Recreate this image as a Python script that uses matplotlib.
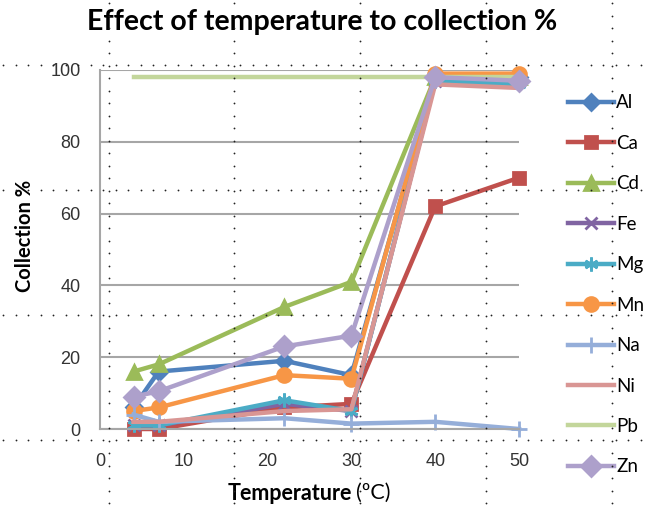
import numpy as np
import matplotlib.pyplot as plt
from matplotlib.lines import Line2D

# temperature (C) and collection % per element
temps = [4, 7, 22, 30, 40, 50]
al = [6, 16, 19, 15, 98, 98]
ca = [0, 0, 6, 7, 62, 70]
cd = [16, 18, 34, 41, 98, 98]
fe = [1, 1, 7, 5, 97, 97]
mg = [1, 1, 8, 5, 97, 96]
mn = [5, 6, 15, 14, 99, 99]
na = [4, 2, 3, 1.5, 2, 0]
ni = [2, 2, 5, 5.5, 96, 95]
pb = [98, 98, 98, 98, 98, 98]
zn = [9, 10.5, 23, 26, 98, 97]

names = ['Al', 'Ca', 'Cd', 'Fe', 'Mg', 'Mn', 'Na', 'Ni', 'Pb', 'Zn']
series = [al, ca, cd, fe, mg, mn, na, ni, pb, zn]
colors = ['#4F81BD', '#C0504D', '#9BBB59', '#8064A2', '#4BACC6',
          '#F79646', '#95AED9', '#D99694', '#C3D69B', '#ADA0CB']
markers = ['D', 's', '^', 'x', (6, 2, 0), 'o', '+', None, None, 'D']
msizes = [8, 9, 10, 9, 10, 10, 12, 0, 0, 10]

W, H = 651, 508
fig = plt.figure(figsize=(W / 100, H / 100), dpi=100)
ax = fig.add_axes([100 / W, 1 - 429 / H, 419 / W, 359 / H])

for name, vals, c, m, ms in zip(names, series, colors, markers, msizes):
    ax.plot(temps, vals, color=c, lw=3.2, marker=m, ms=ms, mew=2,
            mfc=c, mec=c, label=name, clip_on=False)

ax.set_xlim(0, 50)
ax.set_ylim(0, 100)
ax.set_xticks(range(0, 51, 10))
ax.set_yticks(range(0, 101, 20))
ax.yaxis.grid(True, color='#A6A6A6', lw=1.5)
ax.set_axisbelow(True)
for s in ['top', 'right']:
    ax.spines[s].set_visible(False)
for s in ['left', 'bottom']:
    ax.spines[s].set_color('#A6A6A6')
    ax.spines[s].set_linewidth(1.5)
ax.tick_params(length=0, labelsize=13, colors='#333333')
ax.tick_params(axis='y', pad=14)
ax.tick_params(axis='x', pad=17)
for lbl in ax.get_xticklabels() + ax.get_yticklabels():
    lbl.set_family('Liberation Sans')

fig.text(322 / W, 1 - 22 / H, 'Effect of temperature to collection %',
         ha='center', va='center', fontsize=20.5, fontweight='bold', family='Lato')
fig.text(25 / W, 1 - 236 / H, 'Collection %', rotation=90, ha='center',
         va='center', fontsize=14.5, fontweight='bold', family='Lato')
fig.text(352 / W, 1 - 493 / H, 'Temperature', ha='right', va='center',
         fontsize=15.5, fontweight='bold', family='Lato')
fig.text(356 / W, 1 - 493 / H, '(ºC)', ha='left', va='center',
         fontsize=15.5, family='Lato')

leg = ax.legend(loc='upper left', bbox_to_anchor=(560 / W, 1 - 87 / H),
                bbox_transform=fig.transFigure, frameon=False,
                prop={'family': 'Lato', 'size': 13.5}, handlelength=2.5,
                handletextpad=0.1, labelspacing=1.25, borderaxespad=0)

# dotted layout guides over the whole figure
step = 12.5
for yp in [65, 190, 315, 440]:
    xs = np.arange(3, W, step)
    fig.add_artist(Line2D(xs / W, np.full(len(xs), 1 - yp / H), ls='none',
                          marker='o', ms=1.3, mew=0, color='#222222', zorder=10))
for xp in [109, 234, 360, 486, 612]:
    ys = np.arange(3, H, step)
    fig.add_artist(Line2D(np.full(len(ys), xp / W), 1 - ys / H, ls='none',
                          marker='o', ms=1.3, mew=0, color='#222222', zorder=10))

fig.savefig('out.png', dpi=100)
